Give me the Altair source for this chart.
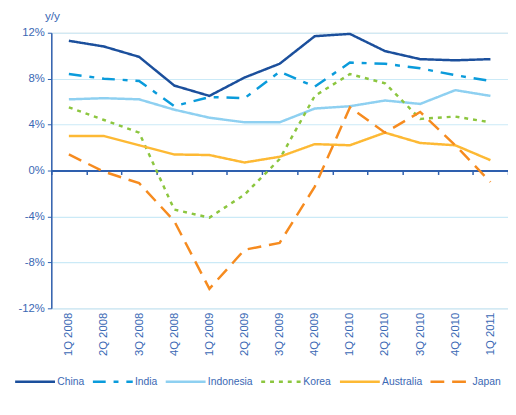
import altair as alt
import pandas as pd

quarters = ["1Q 2008", "2Q 2008", "3Q 2008", "4Q 2008", "1Q 2009", "2Q 2009", "3Q 2009",
            "4Q 2009", "1Q 2010", "2Q 2010", "3Q 2010", "4Q 2010", "1Q 2011"]
countries = ["China", "India", "Indonesia", "Korea", "Australia", "Japan"]
china = [11.3, 10.8, 9.9, 7.4, 6.5, 8.1, 9.3, 11.7, 11.9, 10.4, 9.7, 9.6, 9.7]
india = [8.4, 8.0, 7.8, 5.6, 6.4, 6.3, 8.6, 7.3, 9.4, 9.3, 8.9, 8.3, 7.8]
indonesia = [6.2, 6.3, 6.2, 5.3, 4.6, 4.2, 4.2, 5.4, 5.6, 6.1, 5.8, 7.0, 6.5]
korea = [5.5, 4.4, 3.3, -3.4, -4.1, -2.1, 1.0, 6.5, 8.4, 7.6, 4.5, 4.7, 4.2]
australia = [3.0, 3.0, 2.2, 1.4, 1.35, 0.7, 1.2, 2.3, 2.2, 3.3, 2.4, 2.2, 0.9]
japan = [1.4, -0.1, -1.1, -4.4, -10.3, -6.9, -6.3, -1.4, 5.5, 3.3, 5.1, 2.2, -1.0]

colors = ["#1B4F9C", "#0A9BDB", "#8ED0F1", "#8CC63F", "#FDB934", "#F68B1F"]
dashes = [[1, 0], [13, 8, 5, 8], [1, 0], [4, 5], [1, 0], [14, 8]]

series = [china, india, indonesia, korea, australia, japan]
rows = []
for c, vals in zip(countries, series):
    for q, v in zip(quarters, vals):
        rows.append({"quarter": q, "country": c, "value": v})
df = pd.DataFrame(rows)

axis_color = "#2E5FAE"
text_color = "#3A68B4"
grid_color = "#CBEAF7"
font = "Liberation Sans"


def make_legend():
    return alt.Legend(title=None, orient="none", direction="horizontal",
                      legendX=-38, legendY=333,
                      symbolType="stroke", symbolSize=1640,
                      symbolStrokeWidth=2.5, columnPadding=3,
                      labelOffset=1, labelFont=font, labelFontSize=10.5,
                      labelColor=text_color)


lines = alt.Chart(df).mark_line(strokeWidth=2.5).encode(
    x=alt.X("quarter:O", sort=quarters,
            scale=alt.Scale(type="band", paddingInner=0, paddingOuter=0),
            axis=alt.Axis(title=None, labelAngle=-90, offset=-140, labelPadding=140,
                          tickBand="extent", tickSize=4, tickColor=axis_color,
                          domainColor=axis_color, domainWidth=2, tickWidth=1.5,
                          labelColor=text_color, labelFont=font, labelFontSize=11.5,
                          grid=False)),
    y=alt.Y("value:Q", scale=alt.Scale(domain=[-12, 12], nice=False),
            axis=alt.Axis(values=[-12, -8, -4, 0, 4, 8, 12],
                          labelExpr="datum.value + '%'",
                          title="y/y", titleAngle=0, titleX=-7, titleY=-17,
                          titleAlign="left", titleBaseline="middle",
                          titleFontWeight="normal", titleFontSize=12,
                          titleColor=text_color, titleFont=font,
                          labelColor=text_color, labelFont=font, labelFontSize=11.5,
                          domainColor=axis_color, domainWidth=1.5,
                          tickColor=axis_color, tickSize=4, labelPadding=3,
                          gridColor=grid_color, gridWidth=1.2)),
    color=alt.Color("country:N", scale=alt.Scale(domain=countries, range=colors),
                    legend=make_legend()),
    strokeDash=alt.StrokeDash("country:N", scale=alt.Scale(domain=countries, range=dashes),
                              legend=make_legend()),
    order=alt.Order("country:N"),
    detail="country:N",
)

chart = lines.properties(
    width=464, height=280,
    autosize=alt.AutoSizeParams(type="none"),
    padding={"left": 44, "top": 22, "right": 0, "bottom": 90},
).configure_view(stroke=None).configure(background="white")

chart.save("out.html", embed_options={"renderer": "svg", "actions": False})
